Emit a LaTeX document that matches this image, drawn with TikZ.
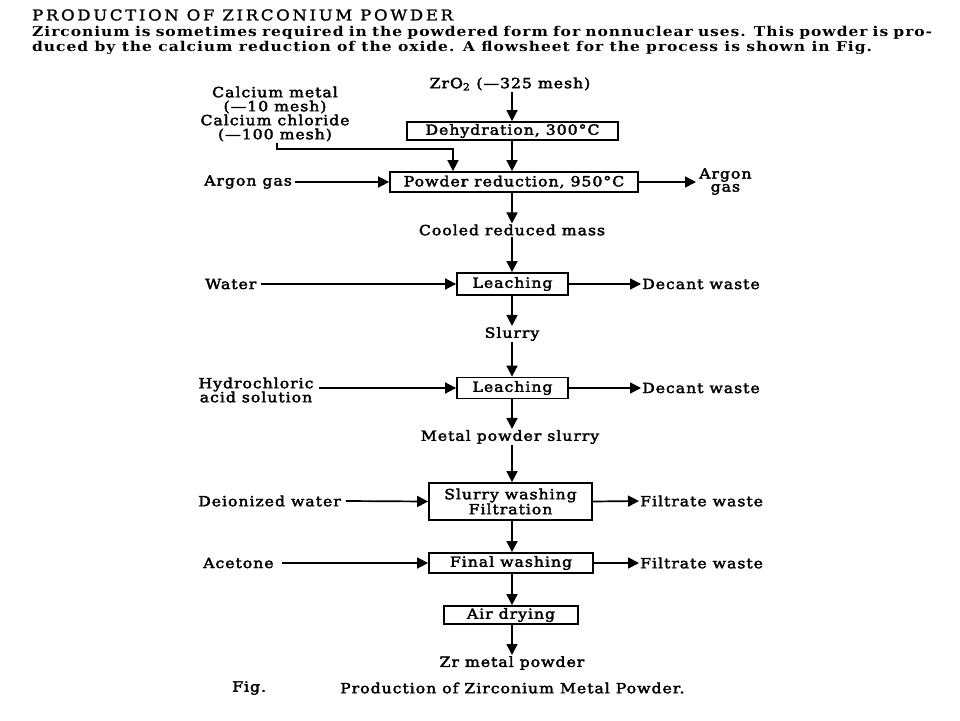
\documentclass[tikz,border=0pt]{standalone}
\usepackage{fontspec}
\setmainfont{DejaVu Serif}
\newfontfamily\flowfont{DejaVu Serif}[FakeBold=2.5, FakeStretch=1.12, LetterSpace=7]
\newfontfamily\titlefont{DejaVu Serif}[FakeBold=1.5, FakeStretch=1.1, LetterSpace=18]
\newfontfamily\bodyfont{DejaVu Serif Bold}[FakeStretch=1.15, LetterSpace=7]
\usetikzlibrary{arrows.meta}
\tikzset{
  box/.style={draw, line width=1.8pt, inner sep=0pt, font=\flowfont\fontsize{14}{15}\selectfont, align=center},
  lbl/.style={inner sep=1pt, font=\flowfont\fontsize{14}{14}\selectfont, align=center},
  flow/.style={line width=1.7pt, -{Triangle[length=11pt,width=11pt]}},
  hdr/.style={inner sep=0pt, anchor=west},
}
\begin{document}
\begin{tikzpicture}[x=1pt,y=-1pt]
\useasboundingbox (0,0) rectangle (960,720);
\fill[white] (0,0) rectangle (960,720);
% header
\node[hdr, font=\titlefont\fontsize{15}{15}\selectfont] (title) at (32,15) {PRODUCTION OF ZIRCONIUM POWDER};
\node[hdr, font=\bodyfont\fontsize{13.5}{14}\selectfont] (body1) at (32,33) {\makebox[900pt][s]{Zirconium is sometimes required in the powdered form for nonnuclear uses. This powder is pro-}};
\node[hdr, font=\bodyfont\fontsize{13.5}{14}\selectfont] (body2) at (32,48) {duced by the calcium reduction of the oxide. A flowsheet for the process is shown in Fig.};

\coordinate (col) at (512,0);
% boxes
\node[box, minimum width=211pt, minimum height=18pt] (dehyd) at (512.5,131) {Dehydration, 300°C};
\node[box, minimum width=248pt, minimum height=20pt] (red) at (514,182) {Powder reduction, 950°C};
\node[box, minimum width=111pt, minimum height=22pt] (leach1) at (512.5,284) {Leaching};
\node[box, minimum width=111pt, minimum height=21pt] (leach2) at (512.5,388) {Leaching};
\node[box, minimum width=163pt, minimum height=37pt] (wash) at (510.5,501.5) {Slurry washing\\Filtration};
\node[box, minimum width=164pt, minimum height=20pt] (final) at (511,563) {Final washing};
\node[box, minimum width=134pt, minimum height=18pt] (air) at (511,615) {Air drying};

% labels in the column
\node[lbl] (zro2) at (510,84) {ZrO\textsubscript{2} (—325 mesh)};
\node[lbl] (cooled) at (512,230) {Cooled reduced mass};
\node[lbl] (slurry) at (512,334) {Slurry};
\node[lbl] (mps) at (510,437) {Metal powder slurry};
\node[lbl] (zr) at (512,663) {Zr metal powder};

% side labels
\node[lbl] (calc) at (275,114) {Calcium metal\\(—10 mesh)\\Calcium chloride\\(—100 mesh)};
\node[lbl, anchor=west] (argin) at (203,182) {Argon gas};
\node[lbl, anchor=west, font=\flowfont\fontsize{14}{13}\selectfont] (argout) at (698,181.5) {Argon\\gas};
\node[lbl, anchor=west] (water) at (204,284) {Water};
\node[lbl, anchor=west] (dec1) at (641,284) {Decant waste};
\node[lbl] (hcl) at (256,390) {Hydrochloric\\acid solution};
\node[lbl, anchor=west] (dec2) at (641,388) {Decant waste};
\node[lbl, anchor=west] (diw) at (197,501) {Deionized water};
\node[lbl, anchor=west] (fw1) at (639,501) {Filtrate waste};
\node[lbl, anchor=west] (acet) at (202,563) {Acetone};
\node[lbl, anchor=west] (fw2) at (639,563) {Filtrate waste};

% caption
\node[lbl, anchor=west] (figlbl) at (231,688) {Fig.};
\node[lbl, anchor=west] (caption) at (339,688) {Production of Zirconium Metal Powder.};

% column flow
\draw[flow] (zro2.south -| col) -- (dehyd.north -| col);
\draw[flow] (dehyd.south -| col) -- (red.north -| col);
\draw[flow] (red.south -| col) -- (cooled.north -| col);
\draw[flow] (cooled.south -| col) -- (leach1.north -| col);
\draw[flow] (leach1.south -| col) -- (slurry.north -| col);
\draw[flow] (slurry.south -| col) -- (leach2.north -| col);
\draw[flow] (leach2.south -| col) -- (mps.north -| col);
\draw[flow] (mps.south -| col) -- (wash.north -| col);
\draw[flow] (wash.south -| col) -- (final.north -| col);
\draw[flow] (final.south -| col) -- (air.north -| col);
\draw[flow] (air.south -| col) -- (zr.north -| col);

% calcium feed
\coordinate (cbend) at (277,149);
\coordinate (cin) at (453,149);
\draw[flow] (calc.south -| cbend) -- (cbend) -- (cin) -- (cin |- red.north);

% side flows
\draw[flow] ([xshift=2pt]argin.east) -- (red.west);
\draw[flow] (red.east) -- ([xshift=-2pt]red.east -| argout.west);
\draw[flow] ([xshift=3pt]water.east) -- (leach1.west);
\draw[flow] (leach1.east) -- (dec1.west);
\draw[flow] ([xshift=4pt]hcl.east |- leach2.west) -- (leach2.west);
\draw[flow] (leach2.east) -- (dec2.west);
\draw[flow] ([xshift=4pt]diw.east) -- (wash.west);
\draw[flow] (wash.east) -- (fw1.west);
\draw[flow] ([xshift=7pt]acet.east) -- (final.west);
\draw[flow] (final.east) -- (fw2.west);
\end{tikzpicture}
\end{document}
